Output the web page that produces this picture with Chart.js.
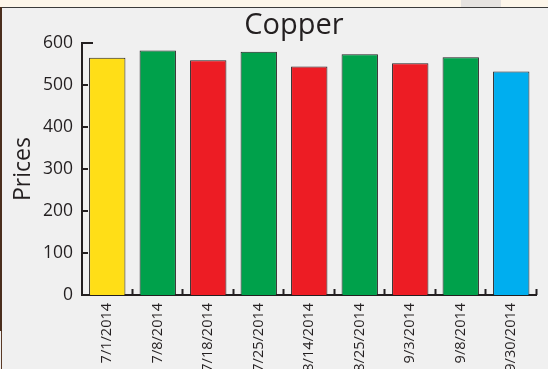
<!DOCTYPE html>
<html>
<head>
<meta charset="utf-8">
<title>Copper</title>
<script src="https://cdn.jsdelivr.net/npm/chart.js@4.4.1/dist/chart.umd.min.js"></script>
<style>
  html, body { margin: 0; padding: 0; width: 548px; height: 369px; overflow: hidden; background: #fdf6ea; }
  #tab { position: absolute; left: 461px; top: 0; width: 40px; height: 7px; background: #e6e3e0; }
  #panel { position: absolute; left: 0; top: 7px; width: 548px; height: 362px; background: #f0f0f0;
           border-top: 1.5px solid #3b3b3b; box-sizing: border-box; }
  #edge { position: absolute; left: 0; top: 7px; width: 2.3px; height: 324px; background: #4a2e1d; }
  #edge2 { position: absolute; left: 1px; top: 331px; width: 1px; height: 38px; background: #5a3a26; }
  #wrap { position: absolute; left: 0; top: 0; width: 548px; height: 369px; }
</style>
</head>
<body>
<div id="tab"></div>
<div id="panel"></div>
<div id="edge"></div>
<div id="edge2"></div>
<div id="wrap"><canvas id="chart" width="548" height="369"></canvas></div>
<script>
// Copper prices by date
const chartTitle = 'Copper';
const axisTitle = 'Prices';
const categories = ['7/1/2014', '7/8/2014', '7/18/2014', '7/25/2014', '8/14/2014',
                    '8/25/2014', '9/3/2014', '9/8/2014', '9/30/2014'];
const prices = [565, 582, 559, 579, 544, 573, 552, 566, 532];
const barColors = ['#FFDE17', '#00A14B', '#ED1C24', '#00A14B', '#ED1C24',
                   '#00A14B', '#ED1C24', '#00A14B', '#00AEEF'];
const yTicks = [0, 100, 200, 300, 400, 500, 600];

const ink = '#231f20';
Chart.defaults.font.family = "'Open Sans', sans-serif";
Chart.defaults.color = ink;

// Tick marks point into the plot, plus the centred heading
const innerTicks = {
  id: 'innerTicks',
  afterDraw(chart) {
    const { ctx, chartArea, scales: { x, y } } = chart;
    ctx.save();
    ctx.strokeStyle = ink;
    ctx.lineWidth = 2;
    ctx.beginPath();
    y.ticks.forEach(t => {
      const py = Math.round(y.getPixelForValue(t.value));
      const len = t.value === y.max ? 11 : 6;
      ctx.moveTo(chartArea.left, py);
      ctx.lineTo(chartArea.left + len, py);
    });
    const step = (chartArea.right - chartArea.left) / categories.length;
    for (let i = 0; i < categories.length; i++) {
      const px = Math.round(x.getPixelForValue(i) + step / 2) - 0.5;
      ctx.moveTo(px, chartArea.bottom);
      ctx.lineTo(px, chartArea.bottom - 6);
    }
    ctx.stroke();

    ctx.font = "29px 'Open Sans', sans-serif";
    ctx.fillStyle = ink;
    ctx.textAlign = 'center';
    ctx.textBaseline = 'alphabetic';
    ctx.fillText(chartTitle, 294, 34);
    ctx.restore();
  }
};

new Chart(document.getElementById('chart'), {
  type: 'bar',
  data: {
    labels: categories,
    datasets: [{
      data: prices,
      backgroundColor: barColors,
      borderColor: ink,
      borderWidth: 1,
      barPercentage: 0.72,
      categoryPercentage: 1
    }]
  },
  options: {
    responsive: false,
    animation: false,
    events: [],
    layout: { padding: { top: 43, right: 11.5, left: 0, bottom: 0 } },
    plugins: {
      legend: { display: false },
      title: { display: false },
      tooltip: { enabled: false }
    },
    scales: {
      x: {
        grid: { display: false, drawTicks: false },
        border: { display: true, color: ink, width: 2 },
        ticks: {
          autoSkip: false,
          minRotation: 90,
          maxRotation: 90,
          padding: 8,
          font: { size: 14.5 }
        },
        afterFit(scale) { scale.height = 74; }
      },
      y: {
        min: 0,
        max: 600,
        grid: { display: false, drawTicks: false },
        border: { display: true, color: ink, width: 2 },
        afterBuildTicks(scale) { scale.ticks = yTicks.map(v => ({ value: v })); },
        ticks: { padding: 9, font: { size: 17.5 } },
        title: {
          display: true,
          text: axisTitle,
          font: { size: 23 },
          padding: { top: 10, bottom: 0 }
        },
        afterFit(scale) { scale.width = 82; }
      }
    }
  },
  plugins: [innerTicks]
});
</script>
</body>
</html>
